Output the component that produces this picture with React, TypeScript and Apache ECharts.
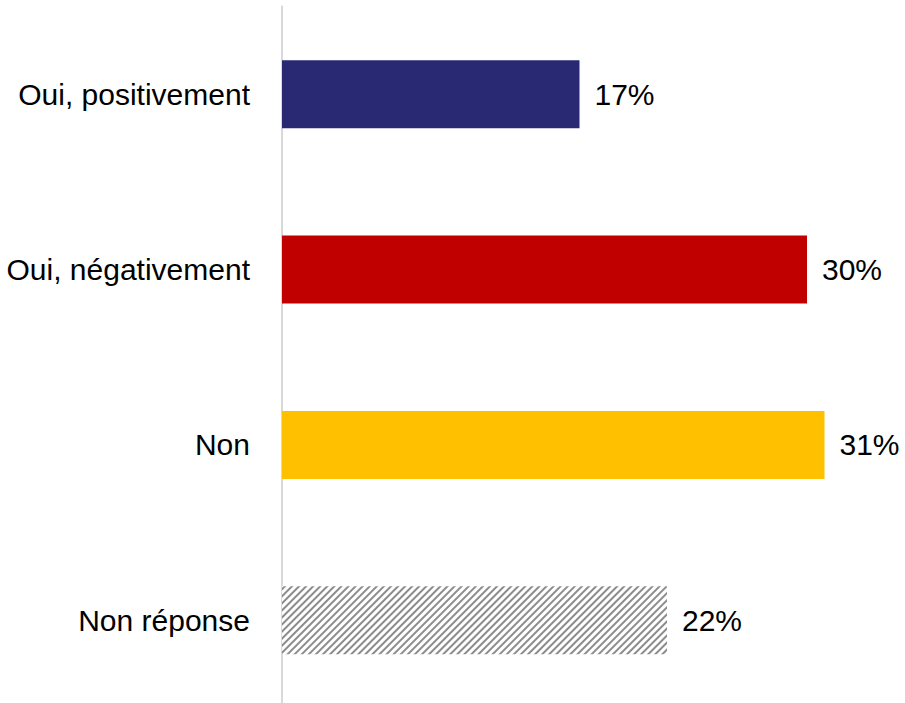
import React, { useEffect, useRef } from "react";
import * as echarts from "echarts";

const categories = ["Oui, positivement", "Oui, négativement", "Non", "Non réponse"];
const values = [17, 30, 31, 22];
const colors = ["#282873", "#C00000", "#FFC000", "#FFFFFF"];

export default function App() {
  const ref = useRef<HTMLDivElement>(null);
  useEffect(() => {
    const chart = echarts.init(ref.current!, null, { renderer: "svg" });
    const data = values.map((v, i) => {
      const item: any = { value: v, itemStyle: { color: colors[i] } };
      if (i === 3) {
        item.itemStyle.decal = {
          symbol: "rect",
          symbolSize: 1,
          dashArrayX: [1, 0],
          dashArrayY: [1.5, 2.2],
          rotation: -Math.PI / 4,
          color: "#8c8c8c",
          backgroundColor: "#ffffff",
        };
      }
      return item;
    });
    chart.setOption({
      animation: false,
      aria: { enabled: false },
      grid: { left: 282, top: 6.5, height: 701.5, width: 612.5, containLabel: false },
      xAxis: { type: "value", min: 0, max: 35, show: false },
      yAxis: {
        type: "category",
        data: categories,
        inverse: true,
        axisLine: { show: true, lineStyle: { color: "#d9d9d9", width: 2 } },
        axisTick: { show: false },
        axisLabel: {
          margin: 32,
          fontFamily: "Liberation Sans, Arial, sans-serif",
          fontSize: 30,
          color: "#000",
        },
      },
      series: [
        {
          type: "bar",
          data,
          barWidth: 68,
          label: {
            show: true,
            position: "right",
            distance: 15,
            formatter: "{c}%",
            fontFamily: "Liberation Sans, Arial, sans-serif",
            fontSize: 30,
            color: "#000",
          },
        },
      ],
    });
    return () => chart.dispose();
  }, []);
  return (
    <div style={{ width: 905, height: 703, position: "absolute", left: 0, top: 0, overflow: "hidden" }}>
      <div ref={ref} style={{ width: 905, height: 712 }} />
    </div>
  );
}
